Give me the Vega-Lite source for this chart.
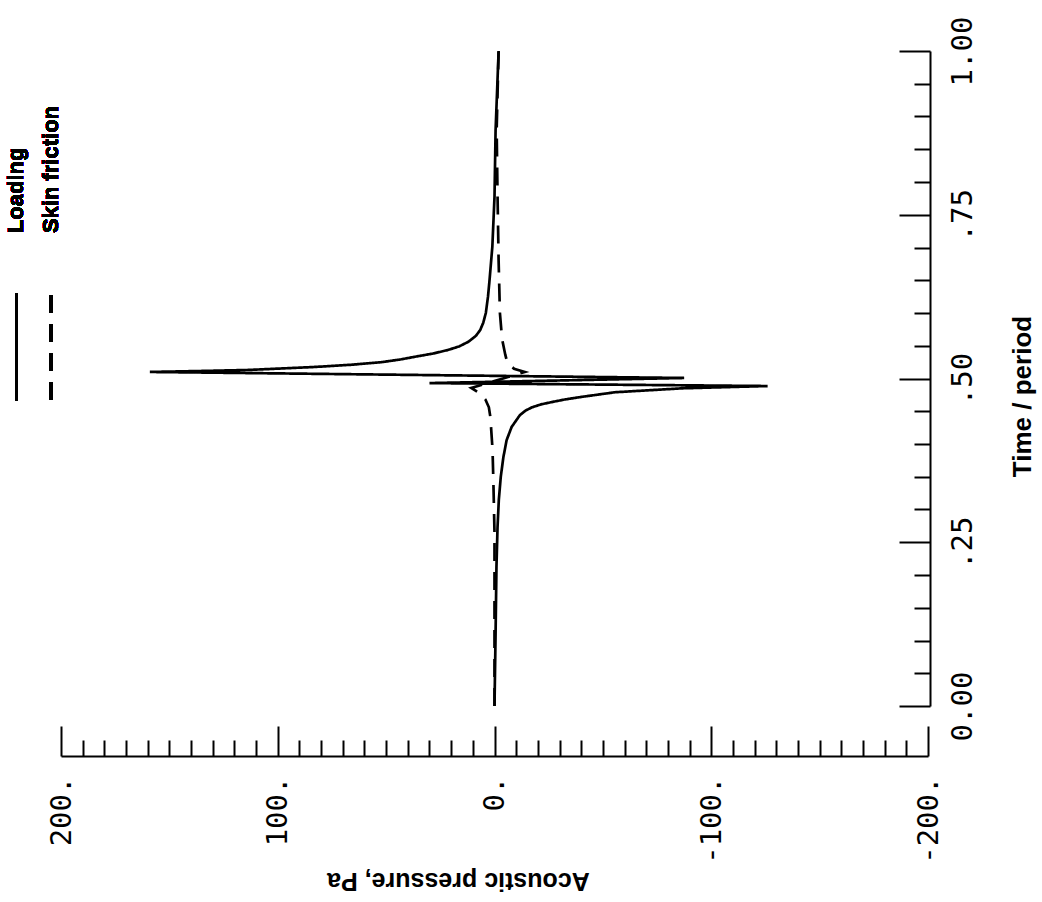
{
  "$schema": "https://vega.github.io/schema/vega-lite/v6.json",
  "width": 867,
  "height": 655,
  "autosize": {"type": "none"},
  "padding": {"left": 61, "top": 51, "right": 114, "bottom": 196},
  "background": "white",
  "config": {"view": {"stroke": null}},
  "data": {"values": [
    {"series": "Loading", "i": 0, "t": 0, "p": 0},
    {"series": "Loading", "i": 1, "t": 0.111, "p": -0.5},
    {"series": "Loading", "i": 2, "t": 0.212, "p": -0.9},
    {"series": "Loading", "i": 3, "t": 0.273, "p": -1.4},
    {"series": "Loading", "i": 4, "t": 0.315, "p": -2.0},
    {"series": "Loading", "i": 5, "t": 0.350, "p": -2.9},
    {"series": "Loading", "i": 6, "t": 0.380, "p": -4.1},
    {"series": "Loading", "i": 7, "t": 0.406, "p": -5.6},
    {"series": "Loading", "i": 8, "t": 0.426, "p": -7.9},
    {"series": "Loading", "i": 9, "t": 0.444, "p": -11.7},
    {"series": "Loading", "i": 10, "t": 0.451, "p": -14.3},
    {"series": "Loading", "i": 11, "t": 0.456, "p": -17.3},
    {"series": "Loading", "i": 12, "t": 0.4605, "p": -21.5},
    {"series": "Loading", "i": 13, "t": 0.464, "p": -26.4},
    {"series": "Loading", "i": 14, "t": 0.468, "p": -32.5},
    {"series": "Loading", "i": 15, "t": 0.472, "p": -40.3},
    {"series": "Loading", "i": 16, "t": 0.479, "p": -55.6},
    {"series": "Loading", "i": 17, "t": 0.485, "p": -86.5},
    {"series": "Loading", "i": 18, "t": 0.4885, "p": -126},
    {"series": "Loading", "i": 19, "t": 0.493, "p": 30},
    {"series": "Loading", "i": 20, "t": 0.5008, "p": -87.5},
    {"series": "Loading", "i": 21, "t": 0.510, "p": 159},
    {"series": "Loading", "i": 22, "t": 0.5115, "p": 135},
    {"series": "Loading", "i": 23, "t": 0.513, "p": 114},
    {"series": "Loading", "i": 24, "t": 0.5155, "p": 97},
    {"series": "Loading", "i": 25, "t": 0.5176, "p": 83},
    {"series": "Loading", "i": 26, "t": 0.521, "p": 66},
    {"series": "Loading", "i": 27, "t": 0.525, "p": 52},
    {"series": "Loading", "i": 28, "t": 0.529, "p": 43.5},
    {"series": "Loading", "i": 29, "t": 0.533, "p": 37},
    {"series": "Loading", "i": 30, "t": 0.538, "p": 28.5},
    {"series": "Loading", "i": 31, "t": 0.5435, "p": 21.5},
    {"series": "Loading", "i": 32, "t": 0.549, "p": 16.3},
    {"series": "Loading", "i": 33, "t": 0.556, "p": 12.1},
    {"series": "Loading", "i": 34, "t": 0.565, "p": 8.6},
    {"series": "Loading", "i": 35, "t": 0.574, "p": 6.6},
    {"series": "Loading", "i": 36, "t": 0.585, "p": 5.2},
    {"series": "Loading", "i": 37, "t": 0.6, "p": 4.0},
    {"series": "Loading", "i": 38, "t": 0.625, "p": 3.0},
    {"series": "Loading", "i": 39, "t": 0.646, "p": 2.4},
    {"series": "Loading", "i": 40, "t": 0.701, "p": 1.0},
    {"series": "Loading", "i": 41, "t": 0.777, "p": 0},
    {"series": "Loading", "i": 42, "t": 0.879, "p": -0.5},
    {"series": "Loading", "i": 43, "t": 1.0, "p": -1.9},
    {"series": "Skin friction", "i": 0, "t": 0, "p": 0},
    {"series": "Skin friction", "i": 1, "t": 0.162, "p": 0},
    {"series": "Skin friction", "i": 2, "t": 0.264, "p": 0},
    {"series": "Skin friction", "i": 3, "t": 0.340, "p": 0.5},
    {"series": "Skin friction", "i": 4, "t": 0.391, "p": 0.9},
    {"series": "Skin friction", "i": 5, "t": 0.441, "p": 1.9},
    {"series": "Skin friction", "i": 6, "t": 0.456, "p": 2.6},
    {"series": "Skin friction", "i": 7, "t": 0.468, "p": 4.2},
    {"series": "Skin friction", "i": 8, "t": 0.479, "p": 7.5},
    {"series": "Skin friction", "i": 9, "t": 0.4855, "p": 10.7},
    {"series": "Skin friction", "i": 10, "t": 0.510, "p": -14},
    {"series": "Skin friction", "i": 11, "t": 0.515, "p": -9},
    {"series": "Skin friction", "i": 12, "t": 0.523, "p": -6},
    {"series": "Skin friction", "i": 13, "t": 0.536, "p": -5},
    {"series": "Skin friction", "i": 14, "t": 0.56, "p": -3.5},
    {"series": "Skin friction", "i": 15, "t": 0.6, "p": -2.5},
    {"series": "Skin friction", "i": 16, "t": 0.68, "p": -1.9},
    {"series": "Skin friction", "i": 17, "t": 0.78, "p": -1.4},
    {"series": "Skin friction", "i": 18, "t": 0.88, "p": -1.0},
    {"series": "Skin friction", "i": 19, "t": 1.0, "p": -1.9}
  ]},
  "resolve": {"axis": {"x": "independent", "y": "independent"}},
  "layer": [
    {
      "mark": {"type": "line", "color": "black", "strokeWidth": 2.7},
      "encoding": {
        "x": {
          "field": "p", "type": "quantitative",
          "scale": {"domain": [-200, 200], "reverse": true, "nice": false, "zero": false},
          "axis": {
            "orient": "bottom", "offset": 50,
            "values": [200, 100, 0, -100, -200],
            "tickSize": -30,
            "labelExpr": "datum.value + '.'",
            "labelAngle": 270, "labelAlign": "right", "labelBaseline": "middle",
            "labelPadding": 50, "labelFont": "DejaVu Sans Mono", "labelFontSize": 29,
            "labelColor": "black", "labelOverlap": false, "labelFlush": false,
            "domainColor": "black", "domainWidth": 2, "tickColor": "black", "tickWidth": 2,
            "grid": false,
            "title": "Acoustic pressure, Pa", "titleAngle": 180,
            "titleFont": "Liberation Sans Narrow, Liberation Sans", "titleFontSize": 25, "titleFontWeight": "bold",
            "titleColor": "black", "titleX": 397, "titleY": 124, "titleAlign": "center", "titleBaseline": "middle"
          }
        },
        "y": {
          "field": "t", "type": "quantitative",
          "scale": {"domain": [0, 1], "nice": false, "zero": false},
          "axis": {
            "orient": "right", "offset": 2,
            "values": [0, 0.25, 0.5, 0.75, 1],
            "tickSize": -31,
            "labelExpr": "datum.value == 0 ? '0.00' : datum.value == 0.25 ? '.25' : datum.value == 0.5 ? '.50' : datum.value == 0.75 ? '.75' : '1.00'",
            "labelAngle": 270, "labelAlign": "center", "labelBaseline": "top",
            "labelPadding": 49, "labelFont": "DejaVu Sans Mono", "labelFontSize": 29,
            "labelColor": "black", "labelOverlap": false, "labelFlush": false,
            "domainColor": "black", "domainWidth": 2, "tickColor": "black", "tickWidth": 2,
            "grid": false,
            "title": "Time / period", "titleAngle": 270,
            "titleFont": "Liberation Sans Narrow, Liberation Sans", "titleFontSize": 26, "titleFontWeight": "bold",
            "titleColor": "black", "titleX": 92, "titleY": 345, "titleAlign": "center", "titleBaseline": "middle"
          }
        },
        "order": {"field": "i", "type": "quantitative"},
        "strokeDash": {
          "field": "series", "type": "nominal",
          "scale": {"domain": ["Loading", "Skin friction"], "range": [[1, 0], [18, 11]]},
          "legend": null
        }
      }
    },
    {
      "mark": {"type": "rule", "color": "black", "strokeWidth": 2.4},
      "encoding": {
        "x": {
          "datum": 220.6, "type": "quantitative",
          "axis": {
            "orient": "bottom", "offset": 50,
            "values": [190,180,170,160,150,140,130,120,110,90,80,70,60,50,40,30,20,10,-10,-20,-30,-40,-50,-60,-70,-80,-90,-110,-120,-130,-140,-150,-160,-170,-180,-190],
            "tickSize": -16, "tickColor": "black", "tickWidth": 2,
            "labels": false, "domain": false, "grid": false, "title": null
          }
        },
        "y": {
          "datum": 0.467, "type": "quantitative",
          "axis": {
            "orient": "right", "offset": 2,
            "values": [0.05,0.1,0.15,0.2,0.3,0.35,0.4,0.45,0.55,0.6,0.65,0.7,0.8,0.85,0.9,0.95],
            "tickSize": -16, "tickColor": "black", "tickWidth": 2,
            "labels": false, "domain": false, "grid": false, "title": null
          }
        },
        "y2": {"datum": 0.6305}
      }
    },
    {
      "mark": {"type": "rule", "color": "black", "strokeWidth": 2.8, "strokeDash": [18, 11]},
      "encoding": {"x": {"datum": 204.7, "type": "quantitative", "axis": null}, "y": {"datum": 0.467, "type": "quantitative", "axis": null}, "y2": {"datum": 0.6305}}
    },
    {
      "mark": {"type": "text", "angle": 270, "align": "left", "baseline": "middle", "font": "Liberation Sans Narrow, Liberation Sans", "fontSize": 22, "fontWeight": "bold", "color": "black"},
      "encoding": {"x": {"datum": 220.6, "type": "quantitative", "axis": null}, "y": {"datum": 0.722, "type": "quantitative", "axis": null}, "text": {"value": "Loading"}}
    },
    {
      "mark": {"type": "text", "angle": 270, "align": "left", "baseline": "middle", "font": "Liberation Sans Narrow, Liberation Sans", "fontSize": 22, "fontWeight": "bold", "color": "black"},
      "encoding": {"x": {"datum": 204.7, "type": "quantitative", "axis": null}, "y": {"datum": 0.722, "type": "quantitative", "axis": null}, "text": {"value": "Skin friction"}}
    }
  ]
}
